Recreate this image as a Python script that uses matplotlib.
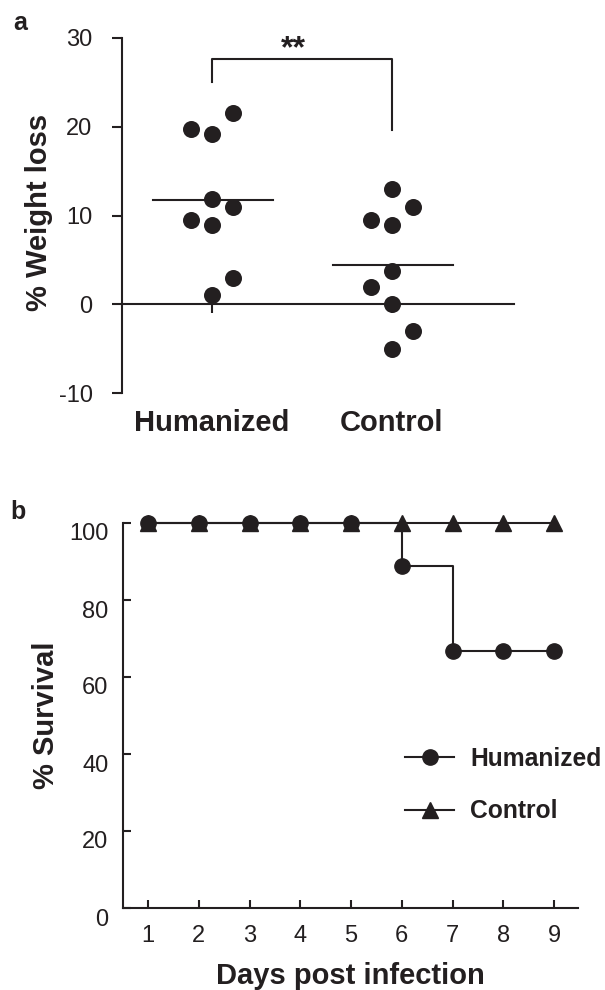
import numpy as np
import matplotlib
matplotlib.use("Agg")
import matplotlib.pyplot as plt
from matplotlib.transforms import ScaledTranslation

plt.rcParams["font.family"] = ["Liberation Sans", "DejaVu Sans"]
plt.rcParams["axes.unicode_minus"] = False
INK = "#231f20"

# panel a: % weight loss per mouse (jitter column -1/0/1)
groups = ["Humanized", "Control"]
hum_loss = [21.5, 19.7, 19.2, 11.9, 11.0, 9.5, 8.95, 3.0, 1.0]
hum_col = [1, -1, 0, 0, 1, -1, 0, 1, 0]
ctl_loss = [13.0, 11.0, 9.5, 8.95, 3.7, 2.0, 0.0, -3.0, -5.0]
ctl_col = [0, 1, -1, 0, 0, -1, 0, 1, 0]
sig_label = "**"

# panel b: survival curves
days = [1, 2, 3, 4, 5, 6, 7, 8, 9]
hum_surv = [100, 100, 100, 100, 100, 88.9, 66.7, 66.7, 66.7]
ctl_surv = [100, 100, 100, 100, 100, 100, 100, 100, 100]

W, H = 605, 990
fig = plt.figure(figsize=(W / 100, H / 100), dpi=100)


def px_axes(l, r, t, b):
    return fig.add_axes([l / W, 1 - b / H, (r - l) / W, (b - t) / H])


# ---------------- panel a ----------------
ax = px_axes(122, 514, 38, 393)
ax.set_xlim(0.5, 2.678)
ax.set_ylim(-10, 30)
jit = 0.118
for i, (vals, cols) in enumerate([(hum_loss, hum_col), (ctl_loss, ctl_col)]):
    x0 = i + 1
    xs = [x0 + c * jit for c in cols]
    ax.scatter(xs, vals, s=150, color=INK, zorder=3, linewidths=0)
    m = np.mean(vals)
    ax.plot([x0 - 0.33, x0 + 0.34], [m, m], color=INK, lw=1.5)

for s in ["top", "right"]:
    ax.spines[s].set_visible(False)
ax.spines["bottom"].set_position(("data", 0))
for s in ["left", "bottom"]:
    ax.spines[s].set_linewidth(1.5)
    ax.spines[s].set_color(INK)
ax.set_yticks([-10, 0, 10, 20, 30])
ax.set_xticks([1, 2])
ax.set_xticklabels([])
ax.tick_params(axis="y", direction="out", length=7.2, width=1.5, pad=14,
               labelsize=17, color=INK, labelcolor=INK)
ax.tick_params(axis="x", direction="out", length=6.5, width=1.5, color=INK)
for i, g in enumerate(groups):
    ax.text(i + 1, -13.4, g, ha="center", va="center", fontsize=21,
            fontweight="bold", color=INK, clip_on=False)

# significance bracket
ax.plot([1, 1, 2, 2], [25.0, 27.6, 27.6, 19.6], color=INK, lw=1.5,
        clip_on=False)
ax.text(1.45, 28.7, sig_label, ha="center", va="center", fontsize=23,
        fontweight="bold", color=INK)

fig.text(39 / W, 1 - 212 / H, "% Weight loss", rotation=90, ha="center",
         va="center", fontsize=21, fontweight="bold", color=INK)
fig.text(20 / W, 1 - 23 / H, "a", ha="center", va="center", fontsize=18,
         fontweight="bold", color=INK)

# ---------------- panel b ----------------
bx = px_axes(123, 578, 523, 908)
bx.set_xlim(0.507, 9.47)
bx.set_ylim(0, 100)
bx.plot(days, ctl_surv, color=INK, lw=1.5, marker="^", ms=11,
        clip_on=False, zorder=3, label="Control")
bx.plot(days, hum_surv, color=INK, lw=1.5, marker="o", ms=11,
        drawstyle="steps-post", clip_on=False, zorder=4, label="Humanized")

for s in ["top", "right"]:
    bx.spines[s].set_visible(False)
for s in ["left", "bottom"]:
    bx.spines[s].set_linewidth(1.5)
    bx.spines[s].set_color(INK)
bx.set_xticks(days)
bx.set_yticks([0, 20, 40, 60, 80, 100])
bx.tick_params(axis="both", direction="in", length=6, width=1.5,
               labelsize=17, color=INK, labelcolor=INK)
bx.tick_params(axis="y", pad=10.5)
bx.tick_params(axis="x", pad=12)
shift = ScaledTranslation(0, -9 / 100, fig.dpi_scale_trans)
for lab in bx.get_yticklabels():
    lab.set_transform(lab.get_transform() + shift)

handles, labels = bx.get_legend_handles_labels()
leg = bx.legend(handles[::-1], labels[::-1], loc="center left",
                bbox_to_anchor=((405 - 123) / 455, (908 - 785) / 385),
                frameon=False, numpoints=1, handlelength=2.0,
                handletextpad=0.65, labelspacing=1.15, borderpad=0,
                borderaxespad=0, prop={"size": 17.7, "weight": "bold"})
for t in leg.get_texts():
    t.set_color(INK)

bx.set_xlabel("Days post infection", fontsize=21, fontweight="bold",
              color=INK)
bx.xaxis.set_label_coords(0.5, -(962 - 908) / 385)
fig.text(46 / W, 1 - 715 / H, "% Survival", rotation=90, ha="center",
         va="center", fontsize=21, fontweight="bold", color=INK)
fig.text(18 / W, 1 - 512 / H, "b", ha="center", va="center", fontsize=18,
         fontweight="bold", color=INK)

fig.savefig("out.png", dpi=100)
